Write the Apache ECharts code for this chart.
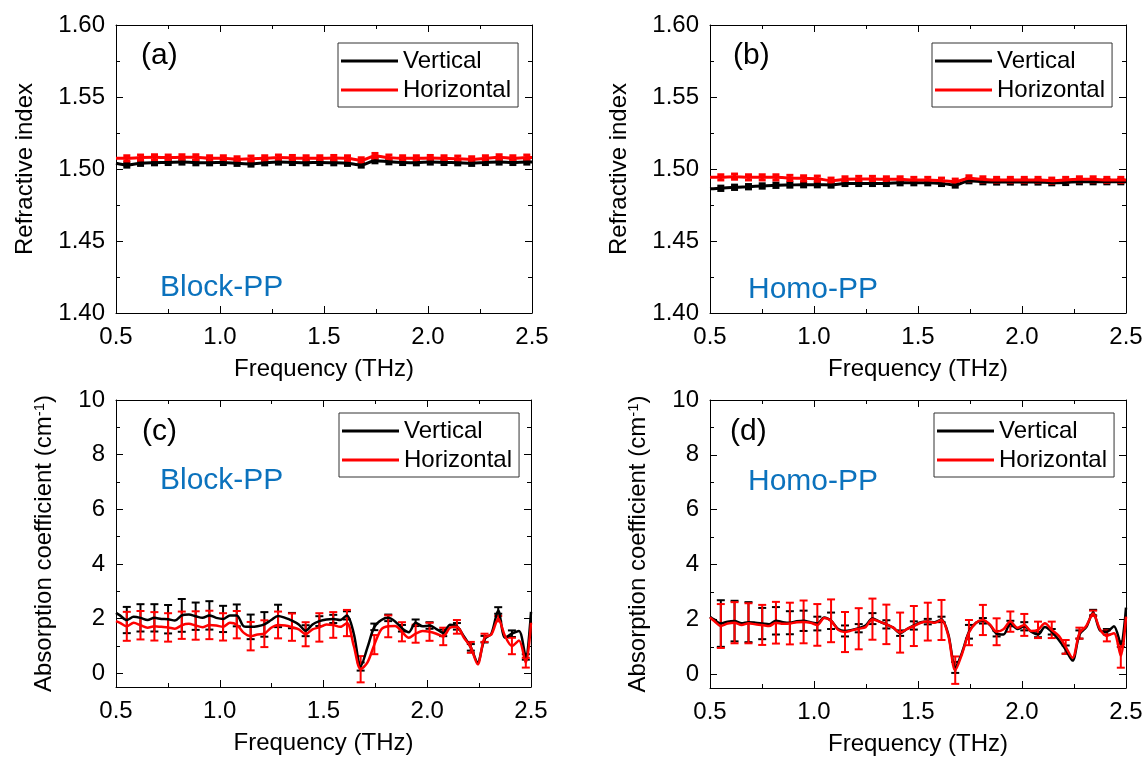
<!DOCTYPE html>
<html><head><meta charset="utf-8">
<script src="https://cdn.jsdelivr.net/npm/echarts@6/dist/echarts.min.js"></script>
<style>html,body{margin:0;padding:0;background:#fff}#c{width:1148px;height:758px}</style>
</head><body><div id="c"></div>
<script>
// ---------- DATA ----------
const panelLabels = ['(a)', '(b)', '(c)', '(d)'];
const sampleNames = ['Block-PP', 'Homo-PP', 'Block-PP', 'Homo-PP'];
const seriesNames = ['Vertical', 'Horizontal'];
const xTitle = 'Frequency (THz)';
const yTitleRef = 'Refractive index';
const yTitleAbs = '{a|Absorption coefficient (cm}{s|-1}{a|)}';
const xTicks = [0.5, 1.0, 1.5, 2.0, 2.5];
const yTicksRef = [1.40, 1.45, 1.50, 1.55, 1.60];
const yTicksAbs = [0, 2, 4, 6, 8, 10];
const yMinorAbs = [1, 3, 5, 7, 9];
const yMinAbs = -0.5;

// frequencies of the error bars
const errFreq = [0.552,0.618,0.685,0.751,0.817,0.884,0.950,1.016,1.082,1.149,1.215,1.281,1.348,1.414,1.480,
                 1.547,1.613,1.679,1.745,1.812,1.878,1.944,2.011,2.077,2.143,2.210,2.276,2.342,2.408,2.475];
// refractive index curves
const refFreq = [0.500,0.552,0.618,0.685,0.751,0.817,0.884,0.950,1.016,1.082,1.149,1.215,1.281,1.348,1.414,1.480,
                 1.547,1.613,1.679,1.745,1.812,1.878,1.944,2.011,2.077,2.143,2.210,2.276,2.342,2.408,2.475,2.500];
const aV = [1.5040,1.5028,1.5040,1.5044,1.5046,1.5049,1.5044,1.5044,1.5046,1.5040,1.5035,1.5044,1.5049,1.5046,1.5044,1.5046,
            1.5044,1.5040,1.5028,1.5058,1.5051,1.5046,1.5044,1.5049,1.5046,1.5044,1.5040,1.5046,1.5049,1.5046,1.5049,1.5049];
const aH = [1.5074,1.5074,1.5079,1.5081,1.5079,1.5081,1.5081,1.5074,1.5074,1.5067,1.5072,1.5074,1.5079,1.5076,1.5074,1.5074,
            1.5076,1.5074,1.5060,1.5090,1.5079,1.5074,1.5074,1.5076,1.5074,1.5072,1.5067,1.5074,1.5081,1.5074,1.5079,1.5079];
const bV = [1.4862,1.4866,1.4873,1.4877,1.4882,1.4887,1.4889,1.4891,1.4891,1.4889,1.4900,1.4900,1.4900,1.4900,1.4905,1.4905,
            1.4905,1.4900,1.4889,1.4919,1.4912,1.4910,1.4910,1.4910,1.4910,1.4905,1.4907,1.4912,1.4912,1.4912,1.4912,1.4912];
const bH = [1.4942,1.4942,1.4947,1.4942,1.4942,1.4942,1.4938,1.4935,1.4933,1.4919,1.4928,1.4931,1.4931,1.4928,1.4928,1.4924,
            1.4924,1.4919,1.4912,1.4935,1.4928,1.4924,1.4924,1.4924,1.4924,1.4919,1.4924,1.4928,1.4928,1.4924,1.4924,1.4924];
const refErrV = [0.0015,0.0015,0.0015,0.0015,0.0015,0.0015,0.0015,0.0015,0.0015,0.0015,0.0015,0.0015,0.0015,0.0015,0.0015,
                 0.0015,0.0015,0.0015,0.0015,0.0015,0.0015,0.0015,0.0015,0.0015,0.0015,0.0015,0.0015,0.0015,0.0015,0.0015];
const refErrH = [0.0018,0.0018,0.0018,0.0018,0.0018,0.0018,0.0018,0.0018,0.0018,0.0018,0.0018,0.0018,0.0018,0.0018,0.0018,
                 0.0018,0.0018,0.0018,0.0018,0.0018,0.0018,0.0018,0.0018,0.0018,0.0018,0.0018,0.0018,0.0018,0.0018,0.0018];

// absorption coefficient curves
const absFreq = [0.500,0.519,0.552,0.585,0.618,0.652,0.685,0.718,0.751,0.784,0.817,0.851,0.884,0.917,0.950,0.983,
                 1.016,1.049,1.082,1.116,1.149,1.182,1.215,1.248,1.281,1.315,1.348,1.381,1.414,1.447,1.480,1.514,
                 1.547,1.580,1.613,1.646,1.679,1.712,1.745,1.779,1.812,1.845,1.878,1.911,1.944,1.978,2.011,2.044,
                 2.077,2.110,2.143,2.177,2.210,2.243,2.276,2.309,2.342,2.375,2.408,2.442,2.475,2.500];
const cV = [2.21,2.12,1.95,2.07,2.03,1.95,2.03,1.99,1.98,1.93,2.12,2.15,2.09,2.03,2.12,2.03,
            1.99,2.12,2.12,1.72,1.70,1.72,1.79,1.95,2.10,2.03,1.93,1.79,1.56,1.79,1.91,1.97,
            1.99,1.95,2.12,1.45,0.25,0.95,1.70,1.95,2.03,1.90,1.65,1.50,1.85,1.72,1.75,1.62,
            1.48,1.78,1.72,1.35,0.95,0.40,1.25,1.45,2.30,1.30,1.45,1.55,0.60,2.25];
const cH = [1.91,1.85,1.72,1.85,1.76,1.67,1.72,1.70,1.68,1.63,1.76,1.81,1.75,1.69,1.77,1.75,
            1.70,1.85,1.78,1.48,1.36,1.42,1.45,1.67,1.77,1.75,1.69,1.61,1.43,1.61,1.68,1.79,
            1.77,1.70,1.84,1.00,0.15,0.40,1.05,1.61,1.72,1.73,1.52,1.30,1.45,1.55,1.52,1.45,
            1.35,1.67,1.70,1.30,0.95,0.33,1.30,1.42,2.00,1.36,1.00,1.20,0.39,1.85];
const dV = [2.10,2.00,1.85,1.92,1.94,1.86,1.90,1.88,1.85,1.82,1.95,1.90,1.88,1.93,1.95,1.90,
            1.85,2.07,1.95,1.65,1.58,1.62,1.68,1.78,2.03,1.92,1.82,1.70,1.50,1.65,1.78,1.90,
            1.92,1.90,2.00,1.45,0.25,0.80,1.55,1.88,1.95,1.80,1.48,1.45,1.85,1.65,1.75,1.55,
            1.45,1.72,1.55,1.25,0.90,0.50,1.45,1.72,2.25,1.60,1.55,1.75,1.10,2.43];
const dH = [2.07,1.95,1.76,1.85,1.88,1.80,1.86,1.82,1.80,1.76,1.88,1.84,1.85,1.90,1.91,1.88,
            1.80,2.05,1.95,1.62,1.54,1.60,1.66,1.72,2.01,1.92,1.82,1.70,1.52,1.65,1.76,1.88,
            1.92,1.88,1.98,1.40,0.15,0.75,1.52,1.88,1.98,1.82,1.55,1.64,1.92,1.70,1.80,1.58,
            1.62,1.86,1.62,1.40,1.00,0.60,1.50,1.76,2.22,1.64,1.40,1.50,0.67,2.10];
const cErrV = [0.48,0.50,0.50,0.52,0.60,0.50,0.52,0.48,0.40,0.45,0.45,0.41,0.28,0.20,0.18,
               0.15,0.15,0.15,0.12,0.12,0.12,0.12,0.12,0.12,0.12,0.12,0.12,0.12,0.12,0.10];
const cErrH = [0.53,0.52,0.52,0.52,0.50,0.52,0.52,0.50,0.50,0.52,0.49,0.49,0.50,0.44,0.52,
               0.47,0.48,0.48,0.35,0.40,0.35,0.33,0.33,0.32,0.25,0.20,0.15,0.10,0.30,0.18];
const dErrV = [0.85,0.74,0.73,0.57,0.50,0.42,0.37,0.25,0.30,0.20,0.15,0.20,0.15,0.10,0.15,
               0.10,0.10,0.20,0.25,0.10,0.10,0.10,0.15,0.10,0.10,0.15,0.15,0.10,0.10,0.10];
const dErrH = [0.80,0.75,0.73,0.73,0.76,0.76,0.78,0.76,0.78,0.73,0.75,0.75,0.72,0.73,0.73,
               0.69,0.73,0.50,0.46,0.55,0.49,0.37,0.40,0.30,0.30,0.25,0.20,0.10,0.20,0.43];

// ---------- LAYOUT / STYLE ----------
const FONT = '"Liberation Sans", Arial, Helvetica, sans-serif';
const BLACK = '#000000', RED = '#ff0000', BLUE = '#0b72bd';
const grids = [
  {left: 116, top: 25, width: 416, height: 288},
  {left: 710, top: 25, width: 416, height: 288},
  {left: 116, top: 400, width: 415, height: 287},
  {left: 710, top: 400, width: 416, height: 288}
];
const legendPos = [[338, 43], [932, 43], [339, 413], [934, 413]];
const labelPos = [[141, 56], [733, 56], [142, 432], [730, 432]];
const samplePos = [[160, 288], [748, 290], [160, 481], [748, 482]];

const xAxes = [], yAxes = [], series = [];
const step = (arr) => Math.round((arr[1] - arr[0]) * 1e6) / 1e6;

function xAxis(g, pos, withLabels) {
  return {
    type: 'value', gridIndex: g, position: pos,
    min: xTicks[0], max: xTicks[xTicks.length - 1], interval: step(xTicks),
    axisLine: {show: true, onZero: false, lineStyle: {color: '#000', width: 1}},
    axisTick: {show: true, inside: true, length: 7, lineStyle: {color: '#000'}},
    minorTick: {show: true, splitNumber: 2, length: 4, lineStyle: {color: '#000'}},
    splitLine: {show: false}, minorSplitLine: {show: false},
    axisLabel: {show: withLabels, margin: 12, fontSize: 24, color: '#000', fontFamily: FONT,
                formatter: v => v.toFixed(1)},
    name: withLabels ? xTitle : '', nameLocation: 'middle', nameGap: 44,
    nameTextStyle: {fontSize: 24, color: '#000', fontFamily: FONT}
  };
}
function yAxisRef(g, pos, withLabels) {
  return {
    type: 'value', gridIndex: g, position: pos,
    min: yTicksRef[0], max: yTicksRef[yTicksRef.length - 1], interval: step(yTicksRef),
    axisLine: {show: true, onZero: false, lineStyle: {color: '#000', width: 1}},
    axisTick: {show: true, inside: true, length: 7, lineStyle: {color: '#000'}},
    minorTick: {show: true, splitNumber: 2, length: 4, lineStyle: {color: '#000'}},
    splitLine: {show: false}, minorSplitLine: {show: false},
    axisLabel: {show: withLabels, margin: 11, fontSize: 24, color: '#000', fontFamily: FONT,
                formatter: v => v.toFixed(2)},
    name: withLabels ? yTitleRef : '', nameLocation: 'middle', nameGap: 79,
    nameTextStyle: {fontSize: 24, color: '#000', fontFamily: FONT}
  };
}
function yAxisAbs(g, pos, withLabels, minor) {
  const vals = minor ? yMinorAbs : yTicksAbs;
  return {
    type: 'value', gridIndex: g, position: pos, offset: 0,
    min: yMinAbs, max: yTicksAbs[yTicksAbs.length - 1],
    axisLine: {show: !minor, onZero: false, lineStyle: {color: '#000', width: 1}},
    axisTick: {show: true, inside: true, length: minor ? 4 : 7, customValues: vals, lineStyle: {color: '#000'}},
    splitLine: {show: false},
    axisLabel: {show: withLabels, customValues: yTicksAbs, margin: 11, fontSize: 24, color: '#000',
                fontFamily: FONT, formatter: v => String(v)},
    name: withLabels ? yTitleAbs : '', nameLocation: 'middle', nameGap: 60,
    nameTextStyle: {fontSize: 24, color: '#000', fontFamily: FONT,
      rich: {a: {fontSize: 24, fontFamily: FONT, color: '#000'},
             s: {fontSize: 15, fontFamily: FONT, color: '#000', verticalAlign: 'top', padding: [0, 0, 8, 0]}}}
  };
}

function lineSeries(name, xi, yi, freq, vals, color, width) {
  return {
    type: 'line', name: name, xAxisIndex: xi, yAxisIndex: yi,
    data: freq.map((f, i) => [f, vals[i]]),
    symbol: 'none', showSymbol: false, smooth: 0.3, clip: true,
    lineStyle: {color: color, width: width}, itemStyle: {color: color},
    animation: false
  };
}
function errSeries(name, xi, yi, data, color, lw, capW) {
  return {
    type: 'custom', name: name, xAxisIndex: xi, yAxisIndex: yi, clip: true,
    data: data, encode: {x: 0, y: 1}, animation: false, silent: true,
    renderItem: function (params, api) {
      const f = api.value(0), c = api.value(1), h = api.value(2);
      const hi = api.coord([f, c + h]), lo = api.coord([f, c - h]);
      const cw = capW / 2;
      const st = {stroke: color, lineWidth: lw};
      return {type: 'group', children: [
        {type: 'line', shape: {x1: hi[0], y1: hi[1], x2: lo[0], y2: lo[1]}, style: st},
        {type: 'line', shape: {x1: hi[0] - cw, y1: hi[1], x2: hi[0] + cw, y2: hi[1]}, style: st},
        {type: 'line', shape: {x1: lo[0] - cw, y1: lo[1], x2: lo[0] + cw, y2: lo[1]}, style: st}
      ]};
    }
  };
}

// refractive index panels (a), (b)
[[aV, aH], [bV, bH]].forEach(([V, H], g) => {
  const xi = xAxes.length; xAxes.push(xAxis(g, 'bottom', true), xAxis(g, 'top', false));
  const yi = yAxes.length; yAxes.push(yAxisRef(g, 'left', true), yAxisRef(g, 'right', false));
  series.push(lineSeries(seriesNames[0], xi, yi, refFreq, V, BLACK, 3));
  series.push(errSeries('errV' + g, xi, yi, errFreq.map((f, k) => [f, V[k + 1], refErrV[k]]), BLACK, 3, 7));
  series.push(lineSeries(seriesNames[1], xi, yi, refFreq, H, RED, 3));
  series.push(errSeries('errH' + g, xi, yi, errFreq.map((f, k) => [f, H[k + 1], refErrH[k]]), RED, 3, 7));
});
// absorption panels (c), (d)
[[cV, cH, cErrV, cErrH], [dV, dH, dErrV, dErrH]].forEach(([V, H, eV, eH], j) => {
  const g = j + 2;
  const xi = xAxes.length; xAxes.push(xAxis(g, 'bottom', true), xAxis(g, 'top', false));
  const yi = yAxes.length;
  yAxes.push(yAxisAbs(g, 'left', true, false), yAxisAbs(g, 'left', false, true),
             yAxisAbs(g, 'right', false, false), yAxisAbs(g, 'right', false, true));
  series.push(lineSeries(seriesNames[0], xi, yi, absFreq, V, BLACK, 2.5));
  series.push(errSeries('errV' + g, xi, yi, errFreq.map((f, k) => [f, V[2 + 2 * k], eV[k]]), BLACK, 2, 8));
  series.push(lineSeries(seriesNames[1], xi, yi, absFreq, H, RED, 2.5));
  series.push(errSeries('errH' + g, xi, yi, errFreq.map((f, k) => [f, H[2 + 2 * k], eH[k]]), RED, 2, 8));
});

const graphics = [];
panelLabels.forEach((t, i) => graphics.push({
  type: 'text', x: labelPos[i][0], y: labelPos[i][1], z: 10,
  style: {text: t, fontSize: 30, fontFamily: FONT, fill: '#000', align: 'left', verticalAlign: 'middle'}
}));
sampleNames.forEach((t, i) => graphics.push({
  type: 'text', x: samplePos[i][0], y: samplePos[i][1], z: 10,
  style: {text: t, fontSize: 30, fontFamily: FONT, fill: BLUE, align: 'left', verticalAlign: 'middle'}
}));

const option = {
  animation: false,
  backgroundColor: '#ffffff',
  grid: grids.map(g => Object.assign({containLabel: false}, g)),
  xAxis: xAxes,
  yAxis: yAxes,
  legend: legendPos.map(p => ({
    left: p[0], top: p[1], orient: 'vertical', itemGap: 5, itemWidth: 57, itemHeight: 3,
    padding: [6, 7, 5, 3], borderColor: '#333', borderWidth: 1, borderRadius: 0, backgroundColor: '#fff',
    selectedMode: false, textStyle: {fontSize: 24, color: '#000', fontFamily: FONT},
    data: seriesNames.map(n => ({name: n, icon: 'rect'}))
  })),
  graphic: graphics,
  series: series
};
const chart = echarts.init(document.getElementById('c'), null, {renderer: 'canvas'});
chart.setOption(option);
</script></body></html>
